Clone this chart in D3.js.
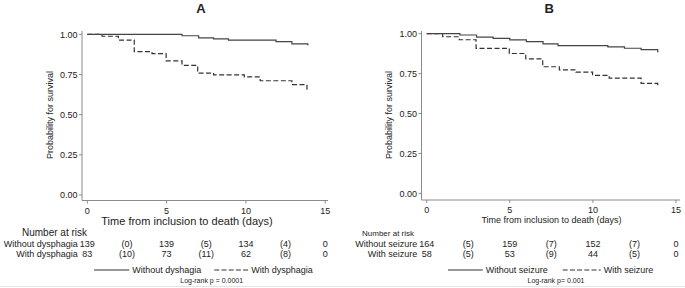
<!DOCTYPE html>
<html>
<head>
<meta charset="utf-8">
<script src="https://cdn.jsdelivr.net/npm/d3@7"></script>
<style>
  body { margin: 0; background: #fff; }
  svg text { font-family: "Liberation Sans", Arial, sans-serif; fill: #222; }
</style>
</head>
<body>
<svg id="chart" width="685" height="288"></svg>
<script>
// Kaplan-Meier step data (time in days, survival probability)
var aWithoutTimes = [0, 5.97, 7.02, 7.96, 8.9, 11.9, 12.9, 13.9, 13.95];
var aWithoutSurv  = [1, 0.991, 0.978, 0.971, 0.964, 0.955, 0.941, 0.935, 0.935];
var aWithTimes = [0, 0.93, 1.96, 2.96, 4.08, 4.97, 5.97, 6.96, 7.96, 9.9, 10.9, 12.9, 13.85, 13.9];
var aWithSurv  = [1, 0.988, 0.964, 0.892, 0.880, 0.835, 0.807, 0.759, 0.747, 0.735, 0.711, 0.687, 0.651, 0.651];

var bWithoutTimes = [0, 2.0, 3.0, 4.0, 5.0, 6.0, 7.0, 7.9, 10.9, 11.9, 12.9, 13.9, 13.95];
var bWithoutSurv  = [1, 0.992, 0.979, 0.971, 0.961, 0.950, 0.936, 0.925, 0.917, 0.909, 0.900, 0.887, 0.887];
var bWithTimes = [0, 0.96, 1.96, 2.97, 4.97, 5.96, 6.98, 7.98, 8.98, 9.98, 10.98, 12.9, 13.9, 13.95];
var bWithSurv  = [1, 0.981, 0.962, 0.908, 0.876, 0.842, 0.793, 0.773, 0.760, 0.739, 0.722, 0.689, 0.672, 0.672];

var xTicks = [0, 5, 10, 15];
var yTicks = [0, 0.25, 0.5, 0.75, 1];

// number at risk table
var riskDays = [0, 2.5, 5, 7.5, 10, 12.5, 15];
var aRiskWithout = ["139", "(0)", "139", "(5)", "134", "(4)", "0"];
var aRiskWith    = ["83", "(10)", "73", "(11)", "62", "(8)", "0"];
var bRiskWithout = ["164", "(5)", "159", "(7)", "152", "(7)", "0"];
var bRiskWith    = ["58", "(5)", "53", "(9)", "44", "(5)", "0"];

var svg = d3.select("#chart");

function toPoints(times, surv) {
    return times.map(function (t, i) { return [t, surv[i]]; });
}

function drawPanel(p) {
    var g = svg.append("g");
    var x = d3.scaleLinear().domain([0, 15]).range([p.x0, p.x15]);
    var y = d3.scaleLinear().domain([0, 1]).range([p.y0, p.y1]);

    // title
    g.append("text").attr("x", p.titleX).attr("y", 13)
        .attr("text-anchor", "middle").style("font-size", "13px").style("font-weight", "bold")
        .text(p.title);

    // axes lines
    g.append("line").attr("x1", p.axisX).attr("x2", p.axisX)
        .attr("y1", 31).attr("y2", p.axisY).attr("stroke", "#8a8a8a");
    g.append("line").attr("x1", p.axisX).attr("x2", p.axisRight)
        .attr("y1", p.axisY).attr("y2", p.axisY).attr("stroke", "#8a8a8a");

    // y ticks
    yTicks.forEach(function (v) {
        g.append("line").attr("x1", p.axisX - 3).attr("x2", p.axisX)
            .attr("y1", y(v)).attr("y2", y(v)).attr("stroke", "#8a8a8a");
        g.append("text").attr("x", p.axisX - 4.5).attr("y", y(v) + 3.2)
            .attr("text-anchor", "end").style("font-size", "9px")
            .text(d3.format(".2f")(v));
    });

    // x ticks
    xTicks.forEach(function (t) {
        g.append("line").attr("x1", x(t)).attr("x2", x(t))
            .attr("y1", p.axisY).attr("y2", p.axisY + 3).attr("stroke", "#8a8a8a");
        g.append("text").attr("x", x(t)).attr("y", p.tickY)
            .attr("text-anchor", "middle").style("font-size", "9px").text(t);
    });

    // axis titles
    g.append("text").attr("x", p.xTitleX).attr("y", p.xTitleY)
        .attr("text-anchor", "middle").style("font-size", p.xTitleSize + "px")
        .text("Time from inclusion to death (days)");
    g.append("text")
        .attr("transform", "translate(" + p.yTitleX + "," + 115 + ") rotate(-90)")
        .attr("text-anchor", "middle").style("font-size", "9px")
        .text("Probability for survival");

    // survival curves
    var line = d3.line()
        .x(function (d) { return x(d[0]); })
        .y(function (d) { return y(d[1]); })
        .curve(d3.curveStepAfter);

    g.append("path").datum(toPoints(p.withTimes, p.withSurv))
        .attr("d", line).attr("fill", "none")
        .attr("stroke", "#333").attr("stroke-width", 1.2)
        .attr("stroke-dasharray", "5,2.5");
    g.append("path").datum(toPoints(p.withoutTimes, p.withoutSurv))
        .attr("d", line).attr("fill", "none")
        .attr("stroke", "#444").attr("stroke-width", 1.2);

    // number at risk
    g.append("text").attr("x", p.panelLeft + 22).attr("y", 236)
        .style("font-size", p.narSize + "px").text("Number at risk");
    [[p.rowLabels[0], p.riskWithout, 246.5], [p.rowLabels[1], p.riskWith, 257]].forEach(function (r) {
        g.append("text").attr("x", p.x0 - 9.5).attr("y", r[2])
            .attr("text-anchor", "end").style("font-size", "9px").text(r[0]);
        riskDays.forEach(function (d, i) {
            g.append("text").attr("x", x(d)).attr("y", r[2])
                .attr("text-anchor", "middle").style("font-size", "9px").text(r[1][i]);
        });
    });

    // legend
    var ly = 270;
    g.append("line").attr("x1", p.leg[0]).attr("x2", p.leg[1]).attr("y1", ly).attr("y2", ly)
        .attr("stroke", "#333").attr("stroke-width", 1.1);
    g.append("text").attr("x", p.leg[1] + 3).attr("y", ly + 3.2)
        .style("font-size", "9px").text(p.legLabels[0]);
    g.append("line").attr("x1", p.leg[2]).attr("x2", p.leg[3]).attr("y1", ly).attr("y2", ly)
        .attr("stroke", "#333").attr("stroke-width", 1.1).attr("stroke-dasharray", "5,2.2");
    g.append("text").attr("x", p.leg[3] + 3).attr("y", ly + 3.2)
        .style("font-size", "9px").text(p.legLabels[1]);

    g.append("text").attr("x", p.logX).attr("y", 283.3)
        .attr("text-anchor", "middle").style("font-size", "7px").text(p.logText);
}

drawPanel({
    title: "A", titleX: 201, panelLeft: 0,
    x0: 87.3, x15: 325.2, y0: 195, y1: 34.3,
    axisX: 82, axisY: 200.5, axisRight: 328,
    tickY: 213.5, xTitleX: 187, xTitleY: 225, xTitleSize: 11, yTitleX: 53,
    narSize: 10,
    withoutTimes: aWithoutTimes, withoutSurv: aWithoutSurv,
    withTimes: aWithTimes, withSurv: aWithSurv,
    rowLabels: ["Without dysphagia", "With dysphagia"],
    riskWithout: aRiskWithout, riskWith: aRiskWith,
    leg: [94, 129.3, 214.3, 248.3],
    legLabels: ["Without dyshagia", "With dysphagia"],
    logX: 211.7, logText: "Log-rank p = 0.0001"
});

drawPanel({
    title: "B", titleX: 549.3, panelLeft: 340,
    x0: 426.7, x15: 676, y0: 193.4, y1: 33.7,
    axisX: 421.5, axisY: 200, axisRight: 680,
    tickY: 212.5, xTitleX: 551.5, xTitleY: 222.5, xTitleSize: 9, yTitleX: 392,
    narSize: 8,
    withoutTimes: bWithoutTimes, withoutSurv: bWithoutSurv,
    withTimes: bWithTimes, withSurv: bWithSurv,
    rowLabels: ["Without seizure", "With seizure"],
    riskWithout: bRiskWithout, riskWith: bRiskWith,
    leg: [448, 482.7, 562.7, 600.7],
    legLabels: ["Without seizure", "With seizure"],
    logX: 556, logText: "Log-rank p= 0.001"
});

// faint separator at the bottom
svg.append("line").attr("x1", 0).attr("x2", 685).attr("y1", 286.5).attr("y2", 286.5)
    .attr("stroke", "#e4e4e4");
</script>
</body>
</html>
